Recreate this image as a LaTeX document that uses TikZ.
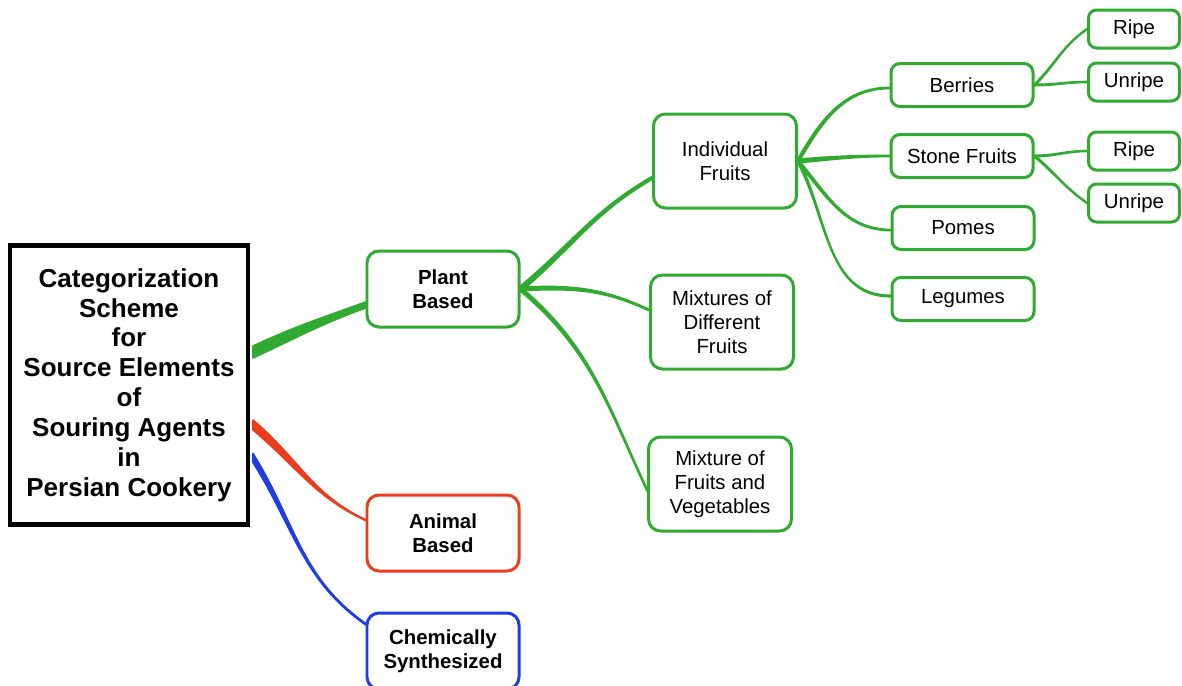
\documentclass[tikz,border=0pt]{standalone}
\usepackage{fontspec}
\setmainfont{Liberation Sans}
\usetikzlibrary{calc}

\definecolor{plantgreen}{RGB}{48,170,48}
\definecolor{animalred}{RGB}{236,60,30}
\definecolor{chemblue}{RGB}{30,60,232}

% tapered link: colour, from, to, out, in, half width at start, half width at end
\newcommand{\tapered}[7]{%
  \filldraw[#1, line width=0.9pt, line join=round] ($(#2)+(0,#6)$) to[out=#4,in=#5] ($(#3)+(0,#7)$)
    -- ($(#3)+(0,-#7)$) to[out=#5,in=#4] ($(#2)+(0,-#6)$) -- cycle;}

\tikzset{
  box/.style={draw=plantgreen, line width=1.7pt, rounded corners=0.24cm, align=center,
    inner sep=0pt, font=\fontsize{11.6}{13.5}\selectfont},
  topbox/.style={box, minimum width=3.04cm, minimum height=1.52cm,
    font=\fontsize{11.6}{13.5}\selectfont\bfseries},
  midbox/.style={box, minimum width=2.86cm, minimum height=1.88cm},
  leafbox/.style={box, minimum width=2.84cm, minimum height=0.86cm, rounded corners=0.18cm},
  tipbox/.style={box, minimum width=1.82cm, minimum height=0.76cm, rounded corners=0.16cm},
}

\begin{document}
\begin{tikzpicture}

\useasboundingbox (0,0) rectangle (23.64,-13.70);

% Root
\node[draw, line width=2.3pt, minimum width=4.76cm, minimum height=5.58cm, align=center,
  font=\fontsize{14.8}{17}\selectfont\bfseries] (main) at (2.58,-7.70)
  {Categorization\\Scheme\\for\\Source Elements\\of\\Souring Agents\\in\\Persian Cookery};

% First level
\node[topbox] (plant) at (8.86,-5.78) {Plant\\Based};
\node[topbox, draw=animalred] (animal) at (8.86,-10.66) {Animal\\Based};
\node[topbox, draw=chemblue] (chem) at (8.86,-13.02) {Chemically\\Synthesized};

% Second level
\node[midbox] (indiv) at (14.50,-3.22) {Individual\\Fruits};
\node[midbox] (mixdiff) at (14.44,-6.44) {Mixtures of\\Different\\Fruits};
\node[midbox] (mixveg) at (14.40,-9.68) {Mixture of\\Fruits and\\Vegetables};

% Third level
\node[leafbox] (berries) at (19.24,-1.70) {Berries};
\node[leafbox] (stone) at (19.24,-3.12) {Stone Fruits};
\node[leafbox] (pomes) at (19.26,-4.56) {Pomes};
\node[leafbox] (legumes) at (19.26,-5.98) {Legumes};

% Fourth level
\node[tipbox] (ripeB) at (22.68,-0.58) {Ripe};
\node[tipbox] (unripeB) at (22.68,-1.64) {Unripe};
\node[tipbox] (ripeS) at (22.68,-3.02) {Ripe};
\node[tipbox] (unripeS) at (22.68,-4.06) {Unripe};

% Link ends
\coordinate (mP) at ($(main.east)+(0.06,0.66)$);
\coordinate (mA) at ($(main.east)+(0.06,-0.80)$);
\coordinate (mC) at ($(main.east)+(0.06,-1.46)$);
\coordinate (pIn) at ($(plant.west)+(0,-0.32)$);
\coordinate (aIn) at ($(animal.west)+(0,0.26)$);
\coordinate (cIn) at ($(chem.west)+(0,0.54)$);
\coordinate (iIn) at ($(indiv.west)+(0,-0.34)$);
\coordinate (dIn) at ($(mixdiff.west)+(0,0.24)$);
\coordinate (vIn) at ($(mixveg.west)+(0,-0.12)$);
\coordinate (bIn) at ($(berries.west)+(0,-0.06)$);
\coordinate (pmIn) at ($(pomes.west)+(0,-0.04)$);
\coordinate (lgIn) at ($(legumes.west)+(0,0.06)$);

% Links from root
\tapered{plantgreen}{mP}{pIn}{25}{200}{0.12}{0.06}
\tapered{animalred}{mA}{aIn}{-40}{155}{0.10}{0.01}
\tapered{chemblue}{mC}{cIn}{-58}{145}{0.09}{0.015}

% Links from plant
\tapered{plantgreen}{plant.east}{iIn}{40}{210}{0.06}{0.03}
\tapered{plantgreen}{plant.east}{dIn}{3}{155}{0.035}{0.015}
\tapered{plantgreen}{plant.east}{vIn}{-40}{115}{0.045}{0.025}

% Links from individual fruits
\tapered{plantgreen}{indiv.east}{bIn}{60}{180}{0.05}{0.012}
\tapered{plantgreen}{indiv.east}{stone.west}{5}{180}{0.035}{0.012}
\tapered{plantgreen}{indiv.east}{pmIn}{-50}{180}{0.038}{0.012}
\tapered{plantgreen}{indiv.east}{lgIn}{-62}{180}{0.05}{0.015}

% Ripe and unripe
\tapered{plantgreen}{berries.east}{ripeB.west}{45}{215}{0.02}{0.01}
\tapered{plantgreen}{berries.east}{unripeB.west}{0}{180}{0.014}{0.01}
\tapered{plantgreen}{stone.east}{ripeS.west}{0}{180}{0.014}{0.01}
\tapered{plantgreen}{stone.east}{unripeS.west}{-40}{145}{0.02}{0.01}

\end{tikzpicture}
\end{document}
